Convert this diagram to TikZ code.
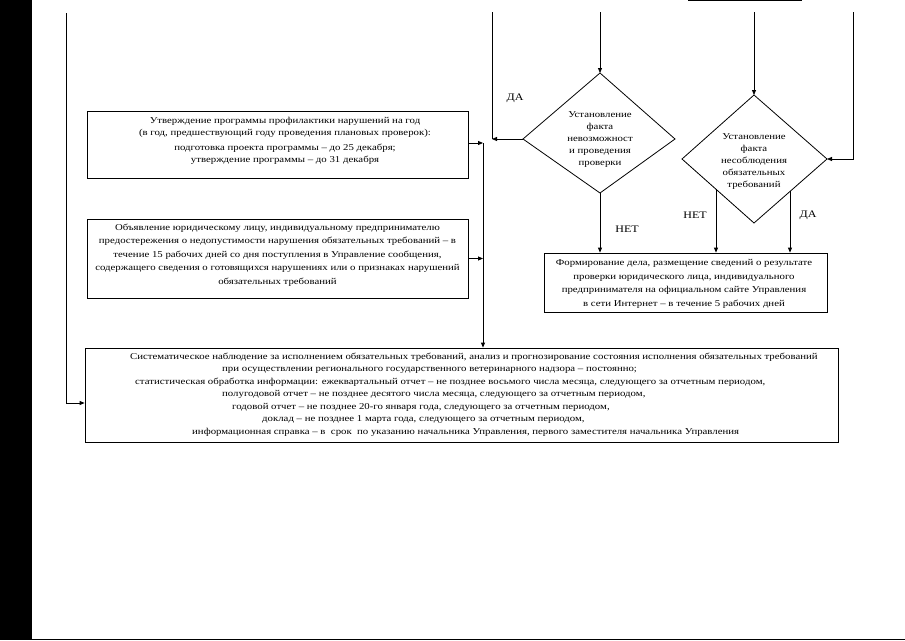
\documentclass[tikz,border=0pt]{standalone}
\usepackage{fontspec}
\setmainfont{Liberation Serif}[FakeStretch=1.2]
\usetikzlibrary{arrows.meta,calc}
\begin{document}
\begin{tikzpicture}[x=1pt,y=-1pt,
  line/.style={draw=black, line width=0.8pt},
  arr/.style={draw=black, line width=0.8pt, -{Triangle[length=5pt,width=4pt]}},
  box/.style={draw=black, line width=0.8pt, inner sep=0pt},
  txt/.style={font=\fontsize{9}{#1}\selectfont, align=center, inner sep=0pt},
  txt/.default=12,
  bt/.style={font=\fontsize{9}{11}\selectfont, anchor=base west, inner sep=0pt},
  lbl/.style={font=\fontsize{10}{12}\selectfont, inner sep=0pt}]
\useasboundingbox (0,0) rectangle (905,640);
\fill[black] (0,0) rectangle (32,640);
\draw[line width=1.5pt] (32,639.25) -- (905,639.25);
\draw[line width=1pt] (688,0.5) -- (802,0.5);

% boxes
\node[box, minimum width=381pt, minimum height=67pt] (b1) at (277.5,144.5) {};
\node[box, minimum width=381pt, minimum height=79pt] (b2) at (277.5,258.5) {};
\node[box, minimum width=283pt, minimum height=59pt] (rb) at (685.5,282.5) {};
\node[box, minimum width=753pt, minimum height=94pt] (b4) at (461.5,395) {};

% diamonds
\coordinate (dlN) at (600,73);
\coordinate (dlW) at (523,139);
\coordinate (dlE) at (675,139);
\coordinate (dlS) at (600,193);
\draw[line] (dlN) -- (dlE) -- (dlS) -- (dlW) -- cycle;
\coordinate (drN) at (754,95);
\coordinate (drW) at (682,159);
\coordinate (drE) at (827,159);
\coordinate (drS) at (754,223);
\draw[line] (drN) -- (drE) -- (drS) -- (drW) -- cycle;

% texts
\node[txt=12] (t1) at (285,141) {Утверждение программы профилактики нарушений на год\\
(в год, предшествующий году проведения плановых проверок):\\[3pt]
подготовка проекта программы – до 25 декабря;\\
утверждение программы – до 31 декабря};
\node[txt=13.5] (t2) at (277.5,255) {Объявление юридическому лицу, индивидуальному предпринимателю\\
предостережения о недопустимости нарушения обязательных требований – в\\
течение 15 рабочих дней со дня поступления в Управление сообщения,\\
содержащего сведения о готовящихся нарушениях или о признаках нарушений\\
обязательных требований};
\node[txt=12] (t3) at (600,140) {Установление\\факта\\невозможност\\и проведения\\проверки};
\node[txt=12] (t4) at (754,162) {Установление\\факта\\несоблюдения\\обязательных\\требований};
\node[txt=13.5] (t5) at (684,284) {Формирование дела, размещение сведений о результате\\
проверки юридического лица, индивидуального\\
предпринимателя на официальном сайте Управления\\
в сети Интернет – в течение 5 рабочих дней};

\node[bt] (l1) at (130,359) {Систематическое наблюдение за исполнением обязательных требований, анализ и прогнозирование состояния исполнения обязательных требований};
\node[bt] (l2) at (222,371) {при осуществлении регионального государственного ветеринарного надзора – постоянно;};
\node[bt] (l3) at (135,384) {статистическая обработка информации: ежеквартальный отчет – не позднее восьмого числа месяца, следующего за отчетным периодом,};
\node[bt] (l4) at (222,396) {полугодовой отчет – не позднее десятого числа месяца, следующего за отчетным периодом,};
\node[bt] (l5) at (232,409) {годовой отчет – не позднее 20-го января года, следующего за отчетным периодом,};
\node[bt] (l6) at (262,421) {доклад – не позднее 1 марта года, следующего за отчетным периодом,};
\node[bt] (l7) at (192,434) {информационная справка – в\ \ срок\ \ по указанию начальника Управления, первого заместителя начальника Управления};

% labels
\node[lbl] (da1) at (515,98) {ДА};
\node[lbl] (net1) at (627,229) {НЕТ};
\node[lbl] (net2) at (695,215) {НЕТ};
\node[lbl] (da2) at (808,215) {ДА};

% connectors
\coordinate (inL) at (66,13);
\draw[arr] (inL) |- ([yshift=-8pt]b4.west);
\coordinate (inDA) at (492,12);
\draw[line] (inDA) -- (inDA |- dlW);
\draw[arr] (dlW) -- (inDA |- dlW);
\coordinate (bus) at (483,143);
\draw[arr] (bus) -- (bus |- b4.north);
\draw[arr] (b1.east |- bus) -- (bus);
\draw[arr] (b2.east) -- (bus |- b2.east);
\coordinate (inN1) at (600,12);
\draw[arr] (inN1) -- (dlN);
\draw[arr] (dlS) -- (dlS |- rb.north);
\coordinate (inN2) at (754,12);
\draw[arr] (inN2) -- (drN);
\coordinate (inE2) at (853,12);
\draw[arr] (inE2) |- (drE);
\coordinate (drL) at ($(drW)!0.472!(drS)$);
\draw[arr] (drL) -- (drL |- rb.north);
\coordinate (drR) at ($(drE)!0.507!(drS)$);
\draw[arr] (drR) -- (drR |- rb.north);
\end{tikzpicture}
\end{document}
